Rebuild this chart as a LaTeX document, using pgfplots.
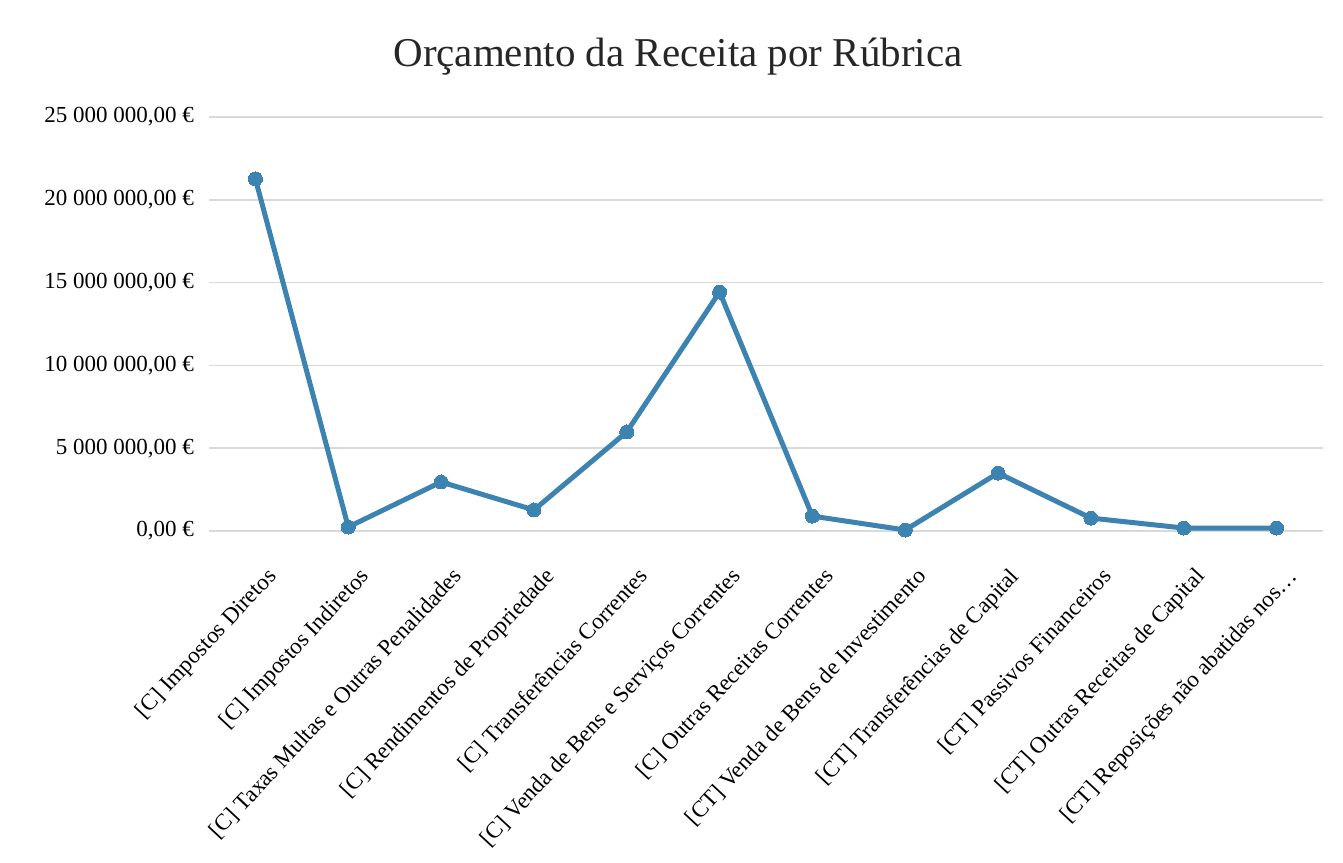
\documentclass[border=0pt]{standalone}
\usepackage{pgfplots}
\pgfplotsset{compat=1.18}
\usepackage{fontspec}
\setmainfont{Liberation Serif}
\definecolor{lineblue}{RGB}{60,131,178}
\definecolor{gridgray}{RGB}{217,217,217}
\begin{document}
\begin{tikzpicture}
\path[use as bounding box] (-104.5pt,-165.5pt) rectangle (567pt,265.5pt);
\begin{axis}[
  at={(0,0)}, anchor=south west,
  scale only axis, width=557pt, height=207pt,
  xmin=-0.5, xmax=11.5, ymin=0, ymax=25000000,
  axis line style={draw=none},
  major tick length=0pt,
  ymajorgrids, grid style={gridgray, line width=0.8pt},
  ytick={0,5000000,10000000,15000000,20000000,25000000},
  yticklabels={{0,00 €},{5 000 000,00 €},{10 000 000,00 €},{15 000 000,00 €},{20 000 000,00 €},{25 000 000,00 €}},
  scaled y ticks=false,
  yticklabel style={font=\fontsize{11.5}{13}\selectfont, xshift=-4pt},
  xtick={0,...,11},
  xticklabels={{[C] Impostos Diretos},{[C] Impostos Indiretos},{[C] Taxas Multas e Outras Penalidades},{[C] Rendimentos de Propriedade},{[C] Transferências Correntes},{[C] Venda de Bens e Serviços Correntes},{[C] Outras Receitas Correntes},{[CT] Venda de Bens de Investimento},{[CT] Transferências de Capital},{[CT] Passivos Financeiros},{[CT] Outras Receitas de Capital},{[CT] Reposições não abatidas nos…}},
  xticklabel style={font=\fontsize{11.5}{13}\selectfont, xshift=5pt, yshift=-16pt, rotate=47, anchor=north east, inner sep=1pt},
  clip=false,
]
\addplot[lineblue, line width=2.5pt, mark=*, mark size=3.5pt, mark options={fill=lineblue, draw=lineblue, line width=0pt}] coordinates {
  (0,21260000) (1,240000) (2,2960000) (3,1270000) (4,5980000) (5,14430000)
  (6,900000) (7,60000) (8,3500000) (9,780000) (10,180000) (11,180000)
};
\end{axis}
\node[font=\fontsize{20.5}{24}\selectfont, text=black!85] at (234.5pt,237pt) {Orçamento da Receita por Rúbrica};
\end{tikzpicture}
\end{document}
